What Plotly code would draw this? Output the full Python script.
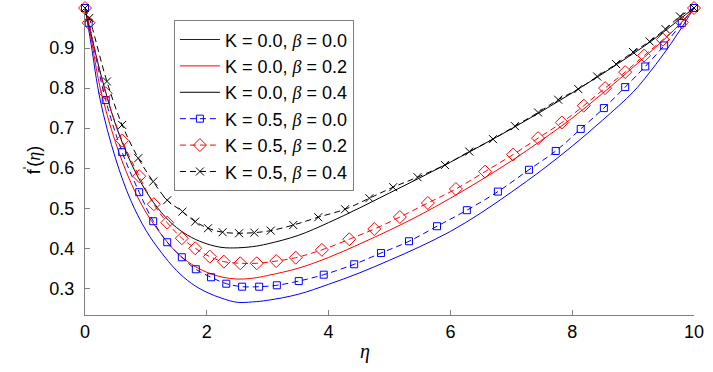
import plotly.graph_objects as go

# solid curves, K = 0.0
eta_solid = [0, 0.1, 0.25, 0.5, 0.75, 1.0, 1.25, 1.5, 1.75, 2.0, 2.25, 2.5, 2.75, 3.0,
             3.5, 4.0, 4.5, 5.0, 5.5, 6.0, 6.5, 7.0, 7.5, 8.0, 8.5, 9.0, 9.25, 9.5, 9.75, 10.0]
f_k0_b00 = [1.0, 0.91, 0.77, 0.625, 0.52, 0.445, 0.39, 0.345, 0.312, 0.29, 0.275, 0.265, 0.266, 0.27,
            0.285, 0.31, 0.338, 0.37, 0.404, 0.442, 0.488, 0.54, 0.595, 0.655, 0.72, 0.79, 0.835, 0.885, 0.94, 1.0]
f_k0_b02 = [1.0, 0.925, 0.80, 0.665, 0.565, 0.49, 0.435, 0.39, 0.36, 0.34, 0.328, 0.323, 0.325, 0.332,
            0.35, 0.377, 0.41, 0.445, 0.483, 0.525, 0.57, 0.618, 0.67, 0.725, 0.787, 0.852, 0.886, 0.92, 0.957, 1.0]
f_k0_b04 = [1.0, 0.935, 0.84, 0.71, 0.615, 0.543, 0.49, 0.452, 0.427, 0.411, 0.402, 0.401, 0.404, 0.411,
            0.432, 0.464, 0.50, 0.538, 0.576, 0.615, 0.656, 0.698, 0.742, 0.788, 0.836, 0.886, 0.912, 0.94, 0.97, 1.0]

# dashed curves with markers, K = 0.5
eta_k5_b00 = [0, 0.06, 0.34, 0.61, 0.89, 1.12, 1.35, 1.59, 1.82, 2.07, 2.32, 2.58, 2.86, 3.15, 3.51, 3.92,
              4.42, 4.86, 5.32, 5.78, 6.27, 6.78, 7.29, 7.73, 8.14, 8.52, 8.87, 9.20, 9.51, 9.80, 10.0]
f_k5_b00 = [1.0, 0.963, 0.77, 0.64, 0.54, 0.4675, 0.415, 0.3775, 0.3475, 0.3275, 0.3115, 0.304, 0.304, 0.3075,
            0.318, 0.334, 0.36, 0.388, 0.4175, 0.455, 0.495, 0.5415, 0.596, 0.643, 0.698, 0.75, 0.8025, 0.854,
            0.9065, 0.9625, 1.0]

eta_k5_b02 = [0, 0.06, 0.34, 0.61, 0.89, 1.13, 1.35, 1.59, 1.81, 2.05, 2.28, 2.55, 2.82, 3.14, 3.46, 3.89,
              4.34, 4.75, 5.17, 5.63, 6.09, 6.57, 7.03, 7.44, 7.83, 8.19, 8.54, 8.87, 9.18, 9.49, 9.80, 10.0]
f_k5_b02 = [1.0, 0.963, 0.787, 0.669, 0.58, 0.51, 0.464, 0.425, 0.40, 0.379, 0.3665, 0.3625, 0.3625, 0.368,
            0.3765, 0.396, 0.4225, 0.448, 0.478, 0.513, 0.548, 0.5915, 0.634, 0.675, 0.714, 0.756, 0.80, 0.84,
            0.881, 0.921, 0.964, 1.0]

eta_k5_b04 = [0, 0.07, 0.36, 0.61, 0.875, 1.12, 1.35, 1.6, 1.81, 2.02, 2.26, 2.53, 2.78, 3.05, 3.42, 3.83,
              4.27, 4.67, 5.06, 5.46, 5.91, 6.31, 6.70, 7.06, 7.44, 7.77, 8.10, 8.41, 8.72, 9.00, 9.27, 9.53,
              9.77, 10.0]
f_k5_b04 = [1.0, 0.975, 0.8165, 0.708, 0.625, 0.5665, 0.52, 0.4915, 0.4665, 0.45, 0.44, 0.4375, 0.439, 0.444,
            0.458, 0.4775, 0.4975, 0.525, 0.5525, 0.5775, 0.608, 0.6415, 0.6725, 0.705, 0.739, 0.771, 0.7975,
            0.829, 0.86, 0.89, 0.9165, 0.9475, 0.979, 1.0]

x_ticks = [0, 2, 4, 6, 8, 10]
y_ticks = [0.3, 0.4, 0.5, 0.6, 0.7, 0.8, 0.9]

BETA = "<span style='font-family:Liberation Serif'><i>β</i></span>"


def label(k, b):
    return f"K = {k}, {BETA} = {b}"


fig = go.Figure()

for y, color, b in [(f_k0_b00, "#0000ff", "0.0"), (f_k0_b02, "#ff0000", "0.2"), (f_k0_b04, "#000000", "0.4")]:
    fig.add_trace(go.Scatter(
        x=eta_solid, y=y, mode="lines", name=label("0.0", b),
        line=dict(color=color, width=1, shape="spline"),
        cliponaxis=False
    ))

dashed = [
    (eta_k5_b00, f_k5_b00, "#0000ff", "square-open", 7, "0.0"),
    (eta_k5_b02, f_k5_b02, "#ff0000", "diamond-open", 10, "0.2"),
    (eta_k5_b04, f_k5_b04, "#000000", "x-thin-open", 8, "0.4"),
]
for x, y, color, sym, size, b in dashed:
    fig.add_trace(go.Scatter(
        x=x, y=y, mode="lines+markers", name=label("0.5", b),
        line=dict(color=color, width=1, dash="6px,4px", shape="spline"),
        marker=dict(symbol=sym, size=size, color=color, line=dict(color=color, width=1)),
        cliponaxis=False
    ))

axis_common = dict(
    showline=True, linecolor="#808080", linewidth=1,
    ticks="inside", ticklen=5, tickcolor="#808080",
    showgrid=False, zeroline=False, mirror=False,
    tickfont=dict(family="Arial, Liberation Sans", size=18, color="#000000"),
)

fig.update_layout(
    width=713, height=372,
    margin=dict(l=85, r=19, t=8, b=57),
    plot_bgcolor="white", paper_bgcolor="white",
    font=dict(family="Arial, Liberation Sans", size=18, color="#000000"),
    xaxis=dict(range=[0, 10], tickvals=x_ticks, **axis_common),
    yaxis=dict(range=[0.2333, 1.0], tickvals=y_ticks, tickformat=".1f", ticklabelstandoff=6, **axis_common),
    legend=dict(
        x=0.146, y=0.96, xanchor="left", yanchor="top",
        bordercolor="#808080", borderwidth=1, bgcolor="white",
        font=dict(family="Arial, Liberation Sans", size=18),
        itemwidth=40, tracegroupgap=0,
    ),
    showlegend=True,
)

fig.add_annotation(
    text="<i>η</i>", xref="paper", yref="paper", x=0.46, y=-0.12,
    xanchor="center", yanchor="middle",
    showarrow=False, font=dict(family="Liberation Serif", size=20)
)
fig.add_annotation(
    text="f<sup>'</sup>(<span style='font-family:Liberation Serif'><i>η</i></span>)",
    xref="paper", yref="paper", x=-0.085, y=0.505, textangle=-90,
    xanchor="center", yanchor="middle",
    showarrow=False, font=dict(family="Arial, Liberation Sans", size=18)
)

fig.write_html(
    "out.html",
    config={"displayModeBar": False},
    post_script="document.body.style.margin='0';"
)
